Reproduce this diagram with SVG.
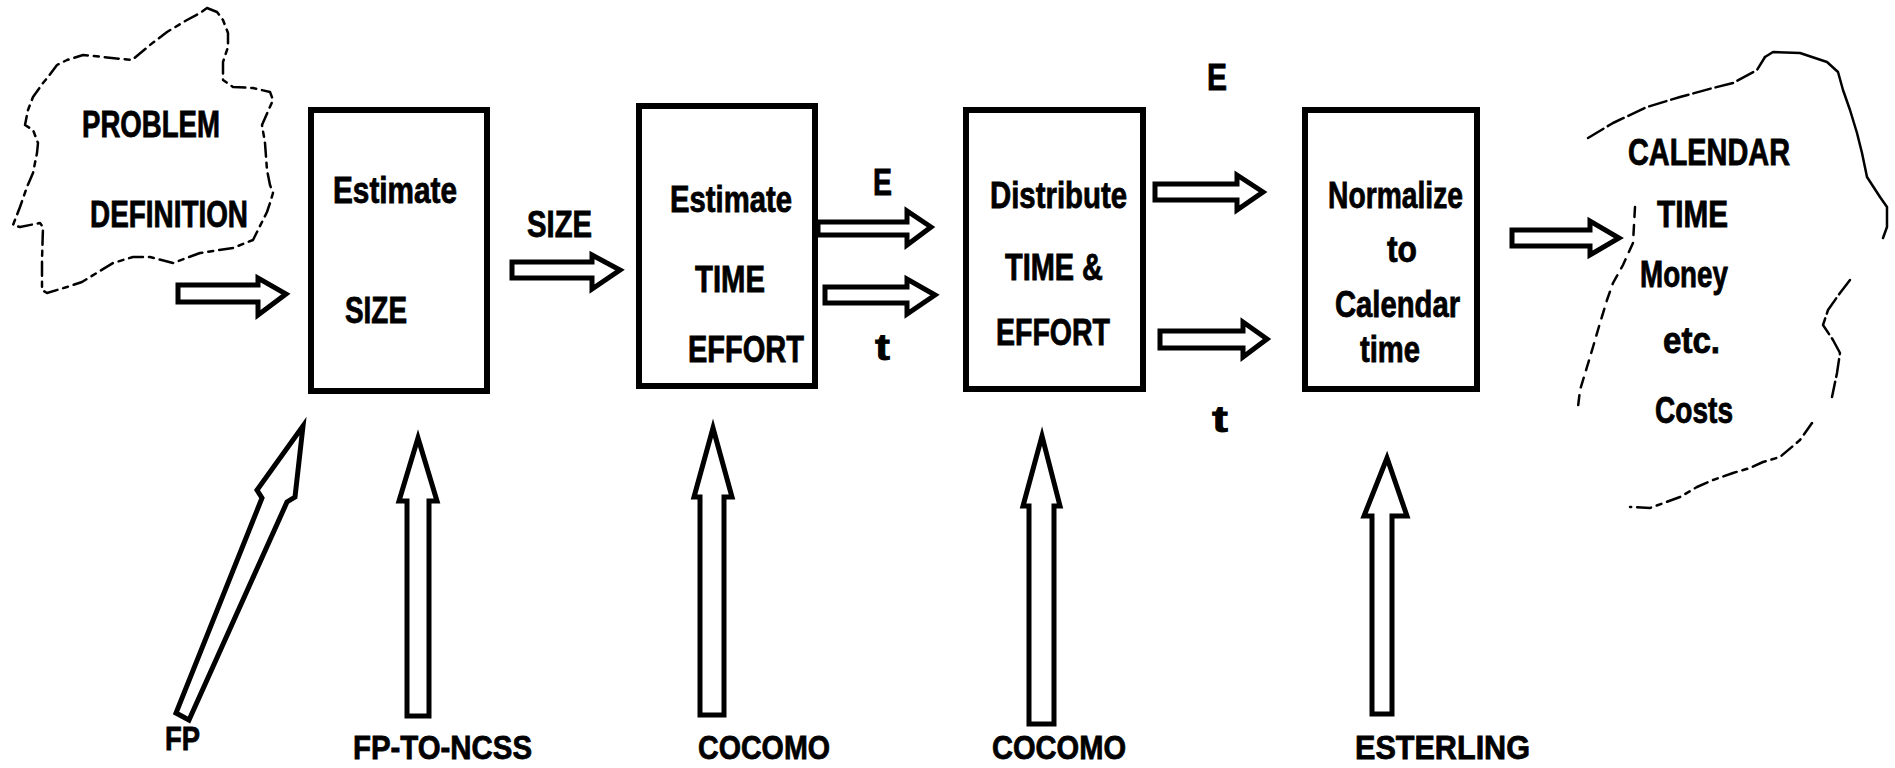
<svg xmlns="http://www.w3.org/2000/svg" width="1895" height="768" viewBox="0 0 1895 768">
<style>
.bg{fill:#fff}
.box{fill:none;stroke:#000;stroke-width:6}
.arr{fill:#fff;stroke:#000;stroke-width:5;stroke-linejoin:miter}
.cloud{fill:none;stroke:#000;stroke-width:2.5;stroke-linejoin:round;stroke-linecap:round}
.dash1{stroke-dasharray:14 6 5 6}
.dash2{stroke-dasharray:18 5}
.dash3{stroke-dasharray:10 8}
text{font-family:"Liberation Sans",Arial,sans-serif;font-weight:bold;font-size:36px;fill:#000;stroke:#000;stroke-width:0.8}
.lbl{font-size:34px}
</style>
<rect class="bg" x="0" y="0" width="1895" height="768"/>

<g id="problem-definition">
<path class="cloud dash1" d="M207,8 L217,12 L223,20 L228,33 L228,47 L223,62 L223,80 L233,87 L253,88 L270,92 L273,100 L262,125 L265,143 L267,170 L270,185 L273,193 L270,203 L267,212 L253,240 L233,248 L200,253 L173,263 L150,257 L133,257 L113,263 L82,282 L67,287 L47,293 L42,290 L42,260 L43,227 L40,223 L20,227 L13,225 L20,207 L27,187 L33,173 L37,153 L38,143 L33,130 L25,125 L28,110 L33,97 L43,83 L48,77 L57,65 L67,60 L83,55 L132,60 L150,45 L167,32 L187,20 L200,13 Z"/>
<text x="82" y="137" textLength="138" lengthAdjust="spacingAndGlyphs">PROBLEM</text>
<text x="90" y="227" textLength="158" lengthAdjust="spacingAndGlyphs">DEFINITION</text>
</g>

<g id="estimate-size">
<rect class="box" x="311" y="110" width="176" height="281"/>
<text x="333" y="203" textLength="124" lengthAdjust="spacingAndGlyphs">Estimate</text>
<text x="345" y="323" textLength="62" lengthAdjust="spacingAndGlyphs">SIZE</text>
</g>

<g id="estimate-time-effort">
<rect class="box" x="639" y="106" width="176" height="280"/>
<text x="670" y="212" textLength="122" lengthAdjust="spacingAndGlyphs">Estimate</text>
<text x="695" y="292" textLength="70" lengthAdjust="spacingAndGlyphs">TIME</text>
<text x="688" y="362" textLength="116" lengthAdjust="spacingAndGlyphs">EFFORT</text>
</g>

<g id="distribute">
<rect class="box" x="966" y="110" width="177" height="279"/>
<text x="990" y="208" textLength="137" lengthAdjust="spacingAndGlyphs">Distribute</text>
<text x="1005" y="280" textLength="98" lengthAdjust="spacingAndGlyphs">TIME &amp;</text>
<text x="996" y="345" textLength="114" lengthAdjust="spacingAndGlyphs">EFFORT</text>
</g>

<g id="normalize">
<rect class="box" x="1305" y="110" width="172" height="279"/>
<text x="1328" y="208" textLength="135" lengthAdjust="spacingAndGlyphs">Normalize</text>
<text x="1387" y="262" textLength="30" lengthAdjust="spacingAndGlyphs">to</text>
<text x="1335" y="317" textLength="125" lengthAdjust="spacingAndGlyphs">Calendar</text>
<text x="1360" y="362" textLength="60" lengthAdjust="spacingAndGlyphs">time</text>
</g>

<g id="calendar-output">
<path class="cloud dash2" d="M1588,138 L1613,123 L1647,107 L1680,97 L1713,88 L1733,83 L1757,70 L1765,57"/>
<path class="cloud" d="M1765,57 L1773,52 L1800,53 L1827,62 L1838,72 L1843,90 L1850,110 L1857,133 L1862,153 L1867,177 L1880,197 L1887,207 L1887,227 L1883,238"/>
<path class="cloud dash2" d="M1850,280 L1840,293 L1828,310 L1823,325 L1833,340 L1840,353 L1837,373 L1832,397"/>
<path class="cloud dash1" d="M1812,423 L1800,440 L1780,457 L1763,462 L1750,468 L1733,473 L1713,480 L1697,487 L1680,497 L1650,508 L1630,507"/>
<path class="cloud dash3" d="M1635,207 L1633,243 L1623,265 L1613,283 L1607,300 L1600,323 L1593,347 L1587,367 L1580,390 L1578,407"/>
<text x="1628" y="165" textLength="162" lengthAdjust="spacingAndGlyphs">CALENDAR</text>
<text x="1657" y="227" textLength="71" lengthAdjust="spacingAndGlyphs">TIME</text>
<text x="1640" y="287" textLength="88" lengthAdjust="spacingAndGlyphs">Money</text>
<text x="1663" y="353" textLength="57" lengthAdjust="spacingAndGlyphs">etc.</text>
<text x="1655" y="423" textLength="78" lengthAdjust="spacingAndGlyphs">Costs</text>
</g>

<g id="input-labels">
<text class="lbl" x="165" y="750" textLength="35" lengthAdjust="spacingAndGlyphs">FP</text>
<text class="lbl" x="353" y="759" textLength="179" lengthAdjust="spacingAndGlyphs">FP-TO-NCSS</text>
<text class="lbl" x="698" y="759" textLength="132" lengthAdjust="spacingAndGlyphs">COCOMO</text>
<text class="lbl" x="992" y="759" textLength="134" lengthAdjust="spacingAndGlyphs">COCOMO</text>
<text class="lbl" x="1355" y="759" textLength="175" lengthAdjust="spacingAndGlyphs">ESTERLING</text>
</g>

<g id="connectors">
<path class="arr" d="M178,285 L258,285 L258,278 L286,294 L258,315 L258,302 L178,302 Z"/>
<path class="arr" d="M512,262 L592,262 L592,255 L620,270 L592,289 L592,278 L512,278 Z"/>
<path class="arr" d="M818,222 L907,222 L907,211 L931,227 L907,245 L907,235 L818,235 Z"/>
<path class="arr" d="M825,287 L907,287 L907,279 L935,295 L907,314 L907,303 L825,303 Z"/>
<path class="arr" d="M1155,184 L1237,184 L1237,175 L1263,192 L1237,210 L1237,200 L1155,200 Z"/>
<path class="arr" d="M1160,331 L1243,331 L1243,322 L1267,339 L1243,357 L1243,348 L1160,348 Z"/>
<path class="arr" d="M1512,230 L1590,230 L1590,221 L1619,238 L1590,255 L1590,246 L1512,246 Z"/>
<path class="arr" d="M303,426 L295,497 L287,502 L189,720 L176,713 L262,498 L257,490 Z"/>
<path class="arr" d="M407,716 L407,501 L399,501 L418,438 L437,501 L429,501 L429,716 Z"/>
<path class="arr" d="M700,715 L700,497 L694,497 L713,428 L732,497 L724,497 L724,715 Z"/>
<path class="arr" d="M1029,724 L1029,506 L1023,506 L1042,436 L1060,506 L1054,506 L1054,724 Z"/>
<path class="arr" d="M1372,714 L1372,516 L1364,516 L1387,458 L1407,516 L1392,516 L1392,714 Z"/>
<text x="873" y="195" textLength="19" lengthAdjust="spacingAndGlyphs">E</text>
<text x="875" y="360" textLength="15" lengthAdjust="spacingAndGlyphs">t</text>
<text x="527" y="237" textLength="65" lengthAdjust="spacingAndGlyphs">SIZE</text>
<text x="1207" y="90" textLength="20" lengthAdjust="spacingAndGlyphs">E</text>
<text x="1212" y="432" textLength="16" lengthAdjust="spacingAndGlyphs">t</text>
</g>
</svg>
